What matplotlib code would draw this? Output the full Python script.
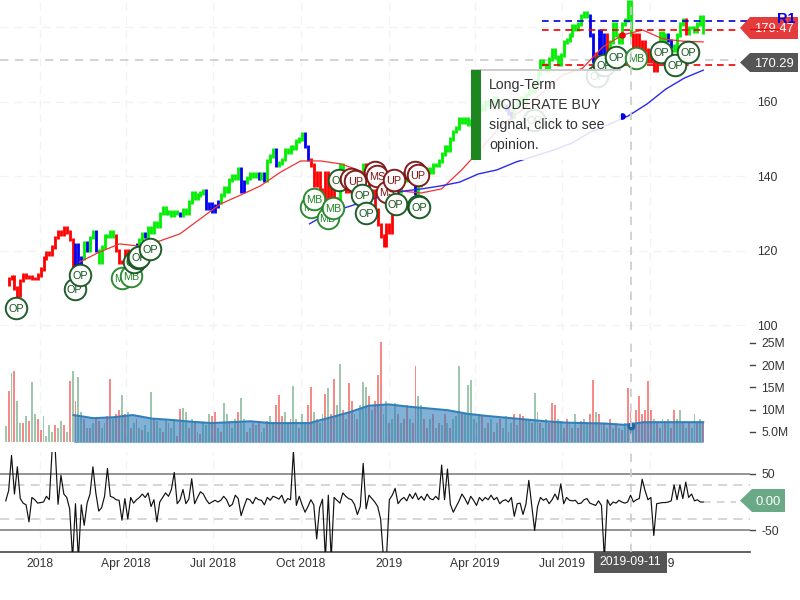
"""Stock chart with price, volume and oscillator panels, plus opinion markers."""
import matplotlib
matplotlib.use("Agg")
import matplotlib.pyplot as plt
import pandas as pd
from matplotlib.patches import Polygon, Rectangle

plt.rcParams["font.family"] = ["Liberation Sans", "DejaVu Sans"]

# --- data ---
start_date = "2017-11-26"
end_date = "2019-11-26"

price = [
    111, 112.5, 113, 110, 108, 112, 113.5, 113, 113, 112.5, 112.5, 113.5, 115, 118, 119.5, 119, 121, 123.5, 125, 124.5,
    126, 125, 123, 116, 121.5, 116.5, 118, 122, 120, 123.5, 125, 120, 117, 121, 124, 124, 125, 124, 120, 117,
    117, 120, 118, 116.5, 120, 121.5, 123, 124.5, 124, 126, 125, 127.5, 126.5, 130, 131.5, 130, 130.5, 129.5, 130.5, 130,
    129.5, 131, 130, 133, 135.5, 134, 135, 135.5, 136, 131.5, 132.5, 130.5, 132, 133, 135, 137, 136, 139, 140, 139.5,
    142, 136, 138.5, 139.5, 140.5, 140, 140.5, 139.5, 140.5, 139, 144, 145.5, 147, 143, 143.5, 144.5, 147, 146.5, 148, 147.5,
    149.5, 150, 151.5, 148, 144.5, 143, 137.6, 141, 136.3, 132, 141, 134, 140, 134, 132, 143, 141, 136, 138, 136,
    141, 136, 139, 143, 140, 135, 136, 131, 127, 124, 121.5, 127, 125, 130, 133, 136, 139, 141, 139, 140,
    138.5, 135.5, 137.5, 139, 140.5, 142, 141, 143, 143, 144, 146, 148, 147, 150, 152, 153, 155.5, 154.5, 155.5, 154,
    155, 156, 158, 159, 158, 160, 159.5, 160, 161, 159.5, 160, 159, 158, 157, 156, 159, 160, 161, 160, 162,
    163, 163, 165, 168, 171, 170, 168.5, 171.5, 173.9, 172, 170, 172.5, 176, 176.6, 178, 180.5, 179.5, 181, 183, 184,
    183, 178, 171, 173, 179, 172, 178, 172, 176, 181, 178, 176, 181, 182, 186.8, 178, 174, 178, 172, 176,
    174, 171, 173, 168.5, 175, 178.5, 176, 178, 176.5, 175, 173.9, 178, 181, 182, 178.5, 180, 180, 179, 181, 182.8, 178.8,
]
price_colors = (
    "rrrrrrrrrrrrrrrrrrrr"
    "rrrrbbbgbggbggggggrr"
    "rrrrrbggbggggggggggg"
    "bggggggggbbbbbgggggg"
    "gbbggggbgbgggbgggggg"
    "gggbbrrrrrrrrrrggrrr"
    "rrrgrrrrrrrrrrrrgggg"
    "gbgggggggggggggggggg"
    "ggggggggggggbbbggggg"
    "gggggggggggggggggggg"
    "gbbrbbbrggggggggrrrr"
    "rrrrrgggbbggggrgggggg"
)

red_ma_start = "2018-02-11"
red_ma = [116.9, 119.6, 121.8, 121.2, 122.6, 124.5, 128.5, 132.5, 134.9, 137.4, 141.1, 144.1, 144.1, 143.3, 141.4, 137.9,
          136, 135.5, 136.6, 141.7, 147.6, 153.8, 157.8, 162.4, 167.2, 169, 174.7, 178, 179.3, 176.9, 176.3, 176.1]
blue_ma_start = "2018-10-10"
blue_ma = [127.2, 130.1, 131.7, 133.3, 134.9, 136, 136.6, 137.4, 138.4, 140.6, 141.7, 143.8, 145.4, 147, 148.9, 151.9,
           154, 156.2, 159.4, 163.4, 166.4, 168.5]
dot_date = "2019-09-02"
red_dot = 178
blue_dot = 156.2

volume = [
    6.3, 14.2, 18.3, 18.7, 12, 7, 7, 8.5, 7.5, 16.2, 9, 8, 5.5, 8.6, 4, 6.5, 5, 6.5, 6, 7.5,
    6.5, 5, 16.5, 18.7, 12, 17.4, 9.5, 8, 6, 6, 7, 8, 7.5, 6, 7, 8.5, 17, 8, 9, 10,
    13.3, 9, 9.5, 6, 7, 8, 6, 5.5, 6.5, 5, 14, 8, 7.5, 6, 5, 8, 7, 6, 7.5, 4,
    10.2, 10.5, 9.5, 6, 8, 7, 5, 4.5, 7, 6.5, 9, 8.5, 9.5, 6, 5, 11.5, 9, 7.5, 6, 8,
    9.5, 12.6, 8, 5, 6, 7, 6.5, 7.5, 5, 6, 7.5, 8.5, 7, 11, 13.3, 8.5, 9.5, 7, 8, 15.3,
    8, 6, 9, 7, 11, 15, 9.5, 8, 7, 9, 13.5, 14.8, 9, 17, 11, 20.3, 10, 8, 16, 12,
    9, 8, 11, 16.2, 15, 13, 10, 12, 17.8, 25.2, 9, 12, 7, 8, 11.5, 9, 7, 8, 11, 8,
    7, 19.8, 13, 11, 8, 6, 8, 9, 6, 7, 6.5, 9, 7, 6, 8, 8.5, 19.8, 9, 9, 15.5,
    16.7, 8, 7, 9, 8.5, 6, 7, 8, 5, 7, 8, 6, 8.5, 5, 7, 9, 6.5, 9, 8.5, 8,
    8, 7, 13.7, 9.5, 7, 6, 8, 7, 11.5, 11, 8, 7.5, 6, 8, 7, 6, 9, 6, 7.5, 8,
    7, 9, 16.7, 9.5, 9, 7, 7, 6, 8, 6, 7, 6, 5.5, 7, 14.9, 9.5, 7, 10, 13, 9,
    10, 16.4, 10, 8, 7, 6, 8, 7.5, 8, 6, 10, 8, 10, 7, 6, 7, 6, 9, 7, 8, 7,
]
volume_colors = (
    "grgrggrgrggrrggggrgg"
    "rgrgrggrgrgrrggrrgrr"
    "grgrgrgrgggrggrgrggr"
    "rggrgrgrgggrrgrggrgg"
    "rggrgrgrggrggrrrggrg"
    "grggrrgrggrgrrggrgrr"
    "grgggrgrrrggrggrgrrg"
    "rrggrrgrgrgrgrgggrgg"
    "ggrgrgrgrgrggrgrgrrg"
    "grggrggrrrggrrgrgrrg"
    "grrgrgrgrgrgrgrrgrrr"
    "rrrgrrgrgrrggrgrggrgr"
)
volume_ma_start = "2018-02-05"
volume_ma = [8.8, 8.1, 8.3, 8.8, 8.0, 7.7, 7.3, 7.0, 7.2, 7.4, 7.0, 7.0, 7.0, 8.2, 9.4, 10.9, 11.2, 10.7, 10.3, 9.9,
             9.1, 8.6, 8.2, 7.8, 7.4, 7.1, 7.0, 6.9, 6.6, 7.2, 7.2, 7.2, 7.2]
volume_dot_date = "2019-09-11"
volume_dot = 6.4

oscillator = [
    2, 20, 82, 14, 62, 6, -2, -5, -35, 8, 4, -2, -1, 0, 10, 4, 95, 95, -4, 47,
    14, 8, -12, -100, -3, -100, -5, -41, -2, 14, 62, 16, -16, -10, 10, 59, 10, 8, 4, 3,
    -32, 6, -30, 8, -2, 4, 8, 14, 8, 16, -8, 4, -35, 0, 8, 16, 10, 22, 52, -3,
    4, 22, -3, 5, 41, -3, 8, 18, 14, 4, -3, 0, 3, 0, 3, 10, 4, -8, -4, 12,
    6, -24, -8, 6, 4, -3, 8, 4, 3, -5, 8, 3, 10, 8, 5, 12, -2, 6, 4, 90,
    -6, 10, -5, -18, -8, 4, -5, -65, -10, 5, -100, 12, -100, 8, 3, -2, 16, 10, 6, 4,
    -4, -22, -8, 68, -12, 12, 6, 0, -8, -30, -100, -100, 4, 12, 24, -3, 4, 8, 2, 14,
    6, 16, 4, 10, 3, 14, 6, 4, 10, 4, 65, 4, 58, -4, -18, -8, 2, 14, 6, -4,
    10, 3, -6, 8, 2, 8, 4, 12, 4, 8, -3, 2, 4, 0, 8, -25, -3, -2, -22, -4,
    38, -6, -50, -8, 8, 3, 6, -3, 4, 14, 4, 32, -3, 8, 3, 2, 3, -3, -2, 4,
    6, -2, -4, -6, 2, -6, -100, 4, -6, 0, -2, 3, 0, -2, 0, 12, 0, 4, 6, 40,
    20, 4, 8, -59, -3, -2, -1, -1, 0, 2, 30, 4, 30, 6, 35, 8, 14, 2, 4, 0, 0,
]

marker_labels = ["OP", "OP", "OP", "MB", "MB", "OP", "OP", "OP", "OP",
                 "MB", "MB", "MB", "MB", "OP", "UP", "UP", "MS", "MS", "MS", "UP", "UP", "UP",
                 "OP", "OP", "OP", "OP", "OP", "OP", "OP", "OP", "OP", "MB", "OP", "OP", "OP"]
marker_days = [-25, 36, 42, 86, 95, 98, 102, 104, 115,
               284, 287, 301, 307, 313, 325, 330, 351, 353, 363, 370, 392, 395,
               337, 341, 372, 395, 397, 517, 583, 590, 603, 624, 650, 665, 678]
marker_prices = [104.6, 109.7, 113.4, 112.6, 113.2, 116.9, 118, 118.3, 120.4,
                 131.7, 133.9, 128.8, 131.5, 139, 139.2, 138.7, 141.1, 140.1, 135.8, 139, 141.1, 140.3,
                 134.9, 130.1, 132.5, 132, 131.7, 155.1, 166.9, 169.9, 172, 171.8, 173.4, 169.9, 173.4]

price_ticks = [100, 120, 140, 160, 180]
price_tick_labels = ["100", "120", "140", "160", ""]
volume_ticks = [5, 10, 15, 20, 25]
volume_tick_labels = ["5.0M", "10M", "15M", "20M", "25M"]
date_ticks = ["2018-01-01", "2018-04-01", "2018-07-01", "2018-10-01", "2019-01-01", "2019-04-01", "2019-07-01", "2019-10-01"]
date_labels = ["2018", "Apr 2018", "Jul 2018", "Oct 2018", "2019", "Apr 2019", "Jul 2019", "Oct 2019"]

resistance = 181.8
sell_line = 179.2
support = 170.0
cursor_price = 171.2
cursor_date = "2019-09-11"

COLORS = {"r": "#ff0000", "g": "#00ee00", "b": "#0000ee"}
VOL_COLORS = {"r": "#ee2a24", "g": "#4f9a6c"}
MARKER_COLORS = {"OP": "#14551f", "MB": "#23862a", "UP": "#7d1414", "MS": "#7d1414"}


def fig_x(px):
    return px / 800


def fig_y(py):
    return 1 - py / 600


def panel(fig, top, bottom):
    return fig.add_axes([0, fig_y(bottom), fig_x(750), (bottom - top) / 600])


def badge(fig, left, tip, right, top, bottom, color, text, alpha=1.0):
    mid = (top + bottom) / 2
    pts = [(tip, mid), (left, top), (right, top), (right, bottom), (left, bottom)]
    fig.add_artist(Polygon([(fig_x(x), fig_y(y)) for x, y in pts], closed=True, transform=fig.transFigure,
                           facecolor=color, edgecolor="none", alpha=alpha, zorder=5))
    fig.text(fig_x((left + right) / 2), fig_y(mid), text, color="white", fontsize=9.4,
             ha="center", va="center_baseline", zorder=6)


def main():
    dates = pd.date_range(start_date, end_date, periods=len(price))
    xlim = (pd.Timestamp("2017-11-20"), pd.Timestamp("2020-01-14"))

    fig = plt.figure(figsize=(8, 6), dpi=100)
    ax_price = panel(fig, 0, 330)
    ax_vol = panel(fig, 340, 442)
    ax_osc = panel(fig, 452, 552)

    for ax in (ax_price, ax_vol, ax_osc):
        ax.set_xlim(xlim)
        ax.yaxis.tick_right()
        for side in ("top", "left", "right", "bottom"):
            ax.spines[side].set_visible(False)
        ax.set_xticks(pd.to_datetime(date_ticks))
        ax.set_xticklabels([])
        ax.tick_params(axis="x", length=0)
        ax.tick_params(axis="y", labelsize=8.7, labelcolor="#333333", color="#444444")
        ax.grid(axis="x", color="#f3f3f3", lw=1, ls=(0, (6, 4)))
        ax.set_axisbelow(True)

    # price panel
    ax_price.set_ylim(98.66, 187.37)
    ax_price.set_yticks(price_ticks)
    ax_price.set_yticklabels(price_tick_labels)
    ax_price.tick_params(axis="y", length=0, pad=5)
    ax_price.grid(axis="y", color="#f3f3f3", lw=1, ls=(0, (6, 4)))

    # each day drawn as a bar from the previous close to the close
    for i in range(1, len(price)):
        low = min(price[i - 1], price[i]) - 0.5
        high = max(price[i - 1], price[i]) + 0.5
        ax_price.vlines(dates[i], low, high, color=COLORS[price_colors[i]], lw=2.0, zorder=2)

    red_dates = pd.date_range(red_ma_start, end_date, periods=len(red_ma))
    blue_dates = pd.date_range(blue_ma_start, end_date, periods=len(blue_ma))
    ax_price.plot(red_dates, red_ma, color="#ee3333", lw=0.9, zorder=3)
    ax_price.plot(blue_dates, blue_ma, color="#2a2aee", lw=1.0, zorder=3)
    ax_price.scatter(pd.Timestamp(dot_date), red_dot, color="#ee0000", s=14, zorder=3)
    ax_price.scatter(pd.Timestamp(dot_date), blue_dot, color="#0000dd", s=14, zorder=3)

    level_start = pd.Timestamp("2019-06-10")
    level_end = pd.Timestamp("2020-01-14")
    ax_price.hlines(resistance, level_start, level_end, color="#0000dd", lw=1.2, ls=(0, (4, 3)), zorder=4)
    ax_price.hlines([sell_line, support], level_start, pd.Timestamp("2019-12-30"), color="#ee0000", lw=1.2,
                    ls=(0, (4, 3)), zorder=4)
    ax_price.hlines(cursor_price, xlim[0], pd.Timestamp("2019-12-30"), color="#cccccc", lw=1.2, ls=(0, (5, 4)), zorder=1.5)

    base = pd.Timestamp("2018-01-01")
    for n, (label, day, value) in enumerate(zip(marker_labels, marker_days, marker_prices)):
        when = base + pd.Timedelta(days=day)
        col = MARKER_COLORS[label]
        ax_price.scatter(when, value, s=240, facecolor="white", edgecolor=col, linewidth=1.4, alpha=0.95, zorder=10 + n)
        ax_price.text(when, value, label, color=col, fontsize=7.8, ha="center", va="center_baseline", zorder=10 + n)

    # volume panel
    bar_width = pd.Timedelta(days=2)
    ax_vol.bar(dates, volume, width=bar_width, color=[VOL_COLORS[c] for c in volume_colors], alpha=0.55, zorder=2)
    vol_dates = pd.date_range(volume_ma_start, end_date, periods=len(volume_ma))
    ax_vol.fill_between(vol_dates, volume_ma, 0, color="#2e7dbb", alpha=0.6, lw=0, zorder=3)
    ax_vol.plot(vol_dates, volume_ma, color="#327fb9", lw=1.5, zorder=4)
    ax_vol.scatter(pd.Timestamp(volume_dot_date), volume_dot, color="#1d69a8", s=22, zorder=5)
    ax_vol.set_ylim(2.75, 25.67)
    ax_vol.set_yticks(volume_ticks)
    ax_vol.set_yticklabels(volume_tick_labels)
    ax_vol.tick_params(axis="y", length=0, pad=8)
    for tick_value in volume_ticks:
        ax_vol.plot([1.0, 1.0067], [tick_value, tick_value], color="#444444", lw=1, clip_on=False,
                    transform=ax_vol.get_yaxis_transform())

    # oscillator panel
    ax_osc.plot(dates, oscillator, color="#111111", lw=0.85, zorder=4)
    ax_osc.set_ylim(-88, 88)
    ax_osc.set_yticks([-50, 50])
    ax_osc.set_yticklabels(["-50", "50"])
    ax_osc.tick_params(axis="y", length=0, pad=8)
    for tick_value in (-50, 50):
        ax_osc.plot([1.0, 1.0067], [tick_value, tick_value], color="#444444", lw=1, clip_on=False,
                    transform=ax_osc.get_yaxis_transform())
    ax_osc.axhline(50, color="#777777", lw=1.1, zorder=2)
    ax_osc.axhline(-50, color="#777777", lw=1.1, zorder=2)
    ax_osc.axhline(30, color="#cccccc", lw=1.1, ls=(0, (6, 4)), zorder=2)
    ax_osc.axhline(-30, color="#cccccc", lw=1.1, ls=(0, (6, 4)), zorder=2)
    ax_osc.hlines(0, pd.Timestamp(end_date), pd.Timestamp("2019-12-30"), color="#cccccc", lw=1.1, ls=(0, (5, 4)))
    ax_osc.spines["bottom"].set_visible(True)
    ax_osc.spines["bottom"].set_color("#555555")
    ax_osc.spines["bottom"].set_linewidth(1.3)
    ax_osc.set_xticklabels(date_labels, fontsize=8.7, color="#333333")
    ax_osc.tick_params(axis="x", pad=4)

    # crosshair, only over the plot panels
    for ax in (ax_price, ax_vol, ax_osc):
        ax.axvline(pd.Timestamp(cursor_date), color="#cccccc", lw=1.2, ls=(0, (5, 4)), zorder=60)

    # tooltip: only its top edge shows in the reference
    fig.add_artist(Rectangle((fig_x(471), fig_y(160)), 150 / 800, 90 / 600, transform=fig.transFigure,
                             facecolor="white", edgecolor="none", alpha=0.86, zorder=3))
    fig.add_artist(Rectangle((fig_x(471), fig_y(70.5)), 150 / 800, 1 / 600, transform=fig.transFigure,
                             facecolor="#cccccc", edgecolor="none", zorder=3))
    fig.add_artist(Rectangle((fig_x(471), fig_y(160)), 10 / 800, 90 / 600, transform=fig.transFigure,
                             facecolor="#1e861e", edgecolor="none", zorder=4))
    tip_lines = ["Long-Term", "MODERATE BUY", "signal, click to see", "opinion."]
    for n, line in enumerate(tip_lines):
        fig.text(fig_x(489), fig_y(85 + 20 * n), line, fontsize=10.2, color="#333333", va="center", zorder=5)

    # value badges
    badge(fig, 750, 740, 798, 17, 39, "#e22b2b", "179.47", alpha=0.92)
    badge(fig, 750, 740, 798, 53, 72, "#555555", "170.29")
    badge(fig, 752, 740, 785, 489, 512, "#6aa986", "0.00")
    fig.add_artist(Rectangle((fig_x(750), fig_y(30)), 30 / 800, 1.5 / 600, transform=fig.transFigure,
                             facecolor="#ee0000", edgecolor="none", zorder=7))
    fig.text(fig_x(786), fig_y(19), "R1", color="#0000dd", fontsize=10.5, fontweight="bold", ha="center",
             va="center", zorder=8)

    # cursor date badge
    fig.add_artist(Rectangle((fig_x(594), fig_y(573)), 73 / 800, 21 / 600, transform=fig.transFigure,
                             facecolor="#555555", edgecolor="none", zorder=5))
    fig.text(fig_x(630.5), fig_y(562), "2019-09-11", color="white", fontsize=8.7, ha="center", va="center", zorder=6)

    fig.savefig("out.png", dpi=100)


if __name__ == "__main__":
    main()
